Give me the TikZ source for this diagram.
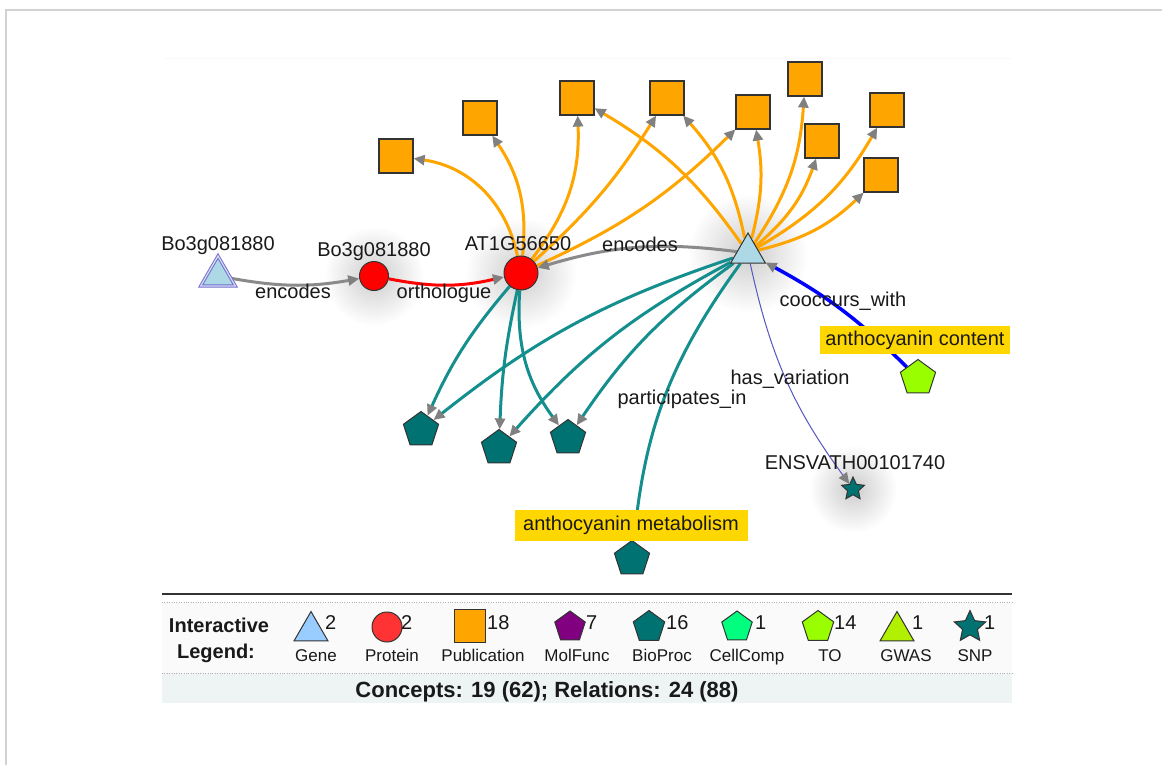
\documentclass[tikz,border=0pt]{standalone}
\usepackage{fontspec}
\setmainfont{Liberation Sans}
\usetikzlibrary{shapes.geometric,arrows.meta,backgrounds}

\definecolor{pubOrange}{HTML}{FFA500}
\definecolor{bioTeal}{HTML}{007272}
\definecolor{tealEdge}{HTML}{158E8E}
\definecolor{geneBlue}{HTML}{ADD8E6}
\definecolor{lgGeneBlue}{HTML}{99CCFF}
\definecolor{protRed}{HTML}{FF0000}
\definecolor{lgProtRed}{HTML}{FF3333}
\definecolor{traitLime}{HTML}{99FF00}
\definecolor{gwasLime}{HTML}{B0F000}
\definecolor{cellGreen}{HTML}{00FF7F}
\definecolor{molPurple}{HTML}{800080}
\definecolor{labelGold}{HTML}{FFD700}
\definecolor{varEdge}{HTML}{5555C0}
\definecolor{edgeGray}{HTML}{8A8A8A}
\definecolor{arrGray}{HTML}{808080}
\definecolor{nodeBorder}{HTML}{333333}
\definecolor{gBorder}{HTML}{6F6FD0}
\definecolor{barGray}{HTML}{EEF4F4}

\newcommand\gfont{\fontsize{20pt}{24pt}\selectfont}
\newcommand\lgfont{\fontsize{17pt}{20pt}\selectfont}

\tikzset{
  every node/.style={inner sep=0pt},
  frameline/.style={draw=gray!35, line width=1.5pt},
  gene/.style={regular polygon, regular polygon sides=3, minimum size=40pt,
    draw=nodeBorder, fill=geneBlue, line width=1pt},
  prot/.style={circle, draw=nodeBorder, fill=protRed, line width=1pt},
  pub/.style={rectangle, minimum size=34pt, draw=nodeBorder, fill=pubOrange, line width=1.2pt},
  bioproc/.style={regular polygon, regular polygon sides=5, minimum size=37pt,
    draw=nodeBorder, fill=bioTeal, line width=1pt},
  trait/.style={regular polygon, regular polygon sides=5, minimum size=37pt,
    draw=nodeBorder, fill=traitLime, line width=1pt},
  snp/.style={star, star points=5, star point ratio=2.1, draw=nodeBorder, fill=bioTeal, line width=1pt},
  arr/.style={-{Triangle[length=11pt,width=10pt,color=arrGray]}},
  pubedge/.style={arr, draw=pubOrange, line width=3pt},
  bpedge/.style={arr, draw=tealEdge, line width=3pt},
  encedge/.style={arr, draw=edgeGray, line width=3pt},
  nm/.style={anchor=base, font=\gfont, text=black!90},
  hilite/.style={fill=labelGold, font=\gfont, text=black!90, inner xsep=4pt},
  cnt/.style={anchor=west, font=\fontsize{20pt}{24pt}\selectfont, text=black!90},
  lgtext/.style={anchor=base, font=\lgfont, text=black!90},
  glow/.style={inner color=black!20, outer color=white}
}

\begin{document}
\begin{tikzpicture}[x=1pt,y=1pt]
  \useasboundingbox (0,0) rectangle (1162,-765);
  \draw[frameline] (6,-765) -- (6,-10) -- (1162,-10);
  \draw[gray!5, line width=1pt] (163,-59) -- (1012,-59);

  % concepts
  \node[gene, draw=gBorder, double=gBorder!25, double distance=1.2pt] (gA) at (218,-276) {};
  \node[prot, minimum size=29pt] (pB) at (374,-276) {};
  \node[prot, minimum size=34pt] (pAT) at (521,-273) {};
  \node[gene] (gR) at (748,-253) {};

  \node[pub] (pub1) at (396,-156) {};
  \node[pub] (pub2) at (480,-118) {};
  \node[pub] (pub3) at (577,-98) {};
  \node[pub] (pub4) at (667,-98) {};
  \node[pub] (pub5) at (753,-112) {};
  \node[pub] (pub6) at (805,-79) {};
  \node[pub] (pub7) at (822,-141) {};
  \node[pub] (pub8) at (887,-110) {};
  \node[pub] (pub9) at (881,-175) {};

  \node[bioproc] (bp1) at (421,-430) {};
  \node[bioproc] (bp2) at (499,-448) {};
  \node[bioproc] (bp3) at (568,-438) {};
  \node[bioproc] (bp4) at (632,-559) {};
  \node[trait] (to1) at (918,-378) {};
  \node[snp, minimum size=24pt] (snp1) at (853,-489) {};

  % relations
  \begin{scope}[on background layer]
    \foreach \g/\r in {pB/50, pAT/56, gR/60, snp1/44}
      \shade[glow] (\g) circle (\r);

    \draw[pubedge] (pAT) to[bend right=35] (pub1);
    \draw[pubedge] (pAT) to[bend right=20] (pub2);
    \draw[pubedge] (pAT) to[bend right=20] (pub3);
    \draw[pubedge] (pAT) to[bend right=8] (pub4);
    \draw[pubedge] (pAT) to[bend right=10] (pub5);
    \draw[pubedge] (gR) to[bend right=12] (pub3);
    \draw[pubedge] (gR) to[bend right=15] (pub4);
    \draw[pubedge] (gR) to[bend right=12] (pub5);
    \draw[pubedge] (gR) to[bend right=15] (pub6);
    \draw[pubedge] (gR) to[bend right=15] (pub7);
    \draw[pubedge] (gR) to[bend right=15] (pub8);
    \draw[pubedge] (gR) to[bend right=15] (pub9);

    \draw[bpedge] (pAT) to[bend right=8] (bp1);
    \draw[bpedge] (pAT) to[bend right=5] (bp2);
    \draw[bpedge] (pAT) to[bend right=20] (bp3);
    \draw[bpedge] (gR) to[bend right=10] (bp1);
    \draw[bpedge] (gR) to[bend right=10] (bp2);
    \draw[bpedge] (gR) to[bend right=10] (bp3);
    \draw[bpedge] (gR) to[bend right=15] (bp4);

    \draw[encedge] (gA) to[bend right=10] (pB);
    \draw[arr, draw=protRed, line width=3pt] (pB) to[bend right=12] (pAT);
    \draw[encedge] (gR) to[bend right=12] (pAT);
    \draw[arr, draw=blue, line width=3.5pt] (to1) to[bend right=8] (gR);
    \draw[arr, draw=varEdge, line width=1pt] (gR) to[bend right=12] (snp1);
  \end{scope}

  % names and relation labels
  \node[nm] (nGA) at (218,-250) {Bo3g081880};
  \node[nm] (nPB) at (374,-256) {Bo3g081880};
  \node[nm] (nPAT) at (518,-250) {AT1G56650};
  \node[nm] (nSNP) at (855,-469) {ENSVATH00101740};
  \node[nm] (rEnc1) at (293,-298) {encodes};
  \node[nm] (rOrth) at (444,-298) {orthologue};
  \node[nm] (rEnc2) at (640,-251) {encodes};
  \node[nm] (rPart) at (682,-404) {participates\_in};
  \node[nm] (rVar) at (790,-384) {has\_variation};
  \node[nm] (rCooc) at (843,-306) {cooccurs\_with};
  \node[hilite, minimum width=190pt, minimum height=28pt] (hlTO) at (915,-340) {anthocyanin content};
  \node[hilite, minimum width=233pt, minimum height=31pt] (hlBP) at (631,-525) {anthocyanin metabolism};

  % legend
  \fill[black!2] (162,-602) rectangle (1012,-673);
  \fill[barGray] (162,-673) rectangle (1012,-703);
  \draw[black!80, line width=2pt] (162,-594) -- (1012,-594);
  \draw[gray!60, dotted] (162,-602) -- (1012,-602);
  \draw[gray!60, dotted] (162,-673) -- (1012,-673);

  \node[anchor=base, font=\bfseries\gfont, text=black!90] (lgTitle1) at (219,-632) {Interactive};
  \node[anchor=base, font=\bfseries\gfont, text=black!90] (lgTitle2) at (216,-658) {Legend:};

  \node[gene, fill=lgGeneBlue, minimum size=39pt] (lgGene) at (311,-631) {};
  \node[prot, fill=lgProtRed, minimum size=30pt] (lgProt) at (387,-627) {};
  \node[pub, minimum width=31pt, minimum height=33pt] (lgPub) at (470,-626) {};
  \node[bioproc, fill=molPurple, minimum size=32pt] (lgMol) at (570,-627) {};
  \node[bioproc, minimum size=33pt] (lgBio) at (649,-627) {};
  \node[bioproc, fill=cellGreen, minimum size=32pt] (lgCell) at (737,-627) {};
  \node[trait, minimum size=33pt] (lgTO) at (818,-627) {};
  \node[gene, fill=gwasLime, minimum size=39pt] (lgGWAS) at (897,-631) {};
  \node[snp, minimum size=33pt] (lgSNP) at (970,-627) {};

  \foreach \n/\x/\c in {Gene/325/2, Prot/401/2, Pub/487/18, Mol/586/7, Bio/666/16,
                        Cell/755/1, TO/834/14, GWAS/912/1, SNP/984/1}
    \node[cnt] (ct\n) at (\x,-623) {\c};

  \foreach \n/\x/\t in {Gene/316/Gene, Prot/392/Protein, Pub/483/Publication, Mol/577/MolFunc,
                        Bio/662/BioProc, Cell/747/CellComp, TO/830/TO, GWAS/906/GWAS, SNP/975/SNP}
    \node[lgtext] (tx\n) at (\x,-661) {\t};

  \node[anchor=base, font=\bfseries\fontsize{22pt}{26pt}\selectfont, text=black!90] (sum) at (547,-697)
    {Concepts: 19 (62); Relations: 24 (88)};
\end{tikzpicture}
\end{document}
